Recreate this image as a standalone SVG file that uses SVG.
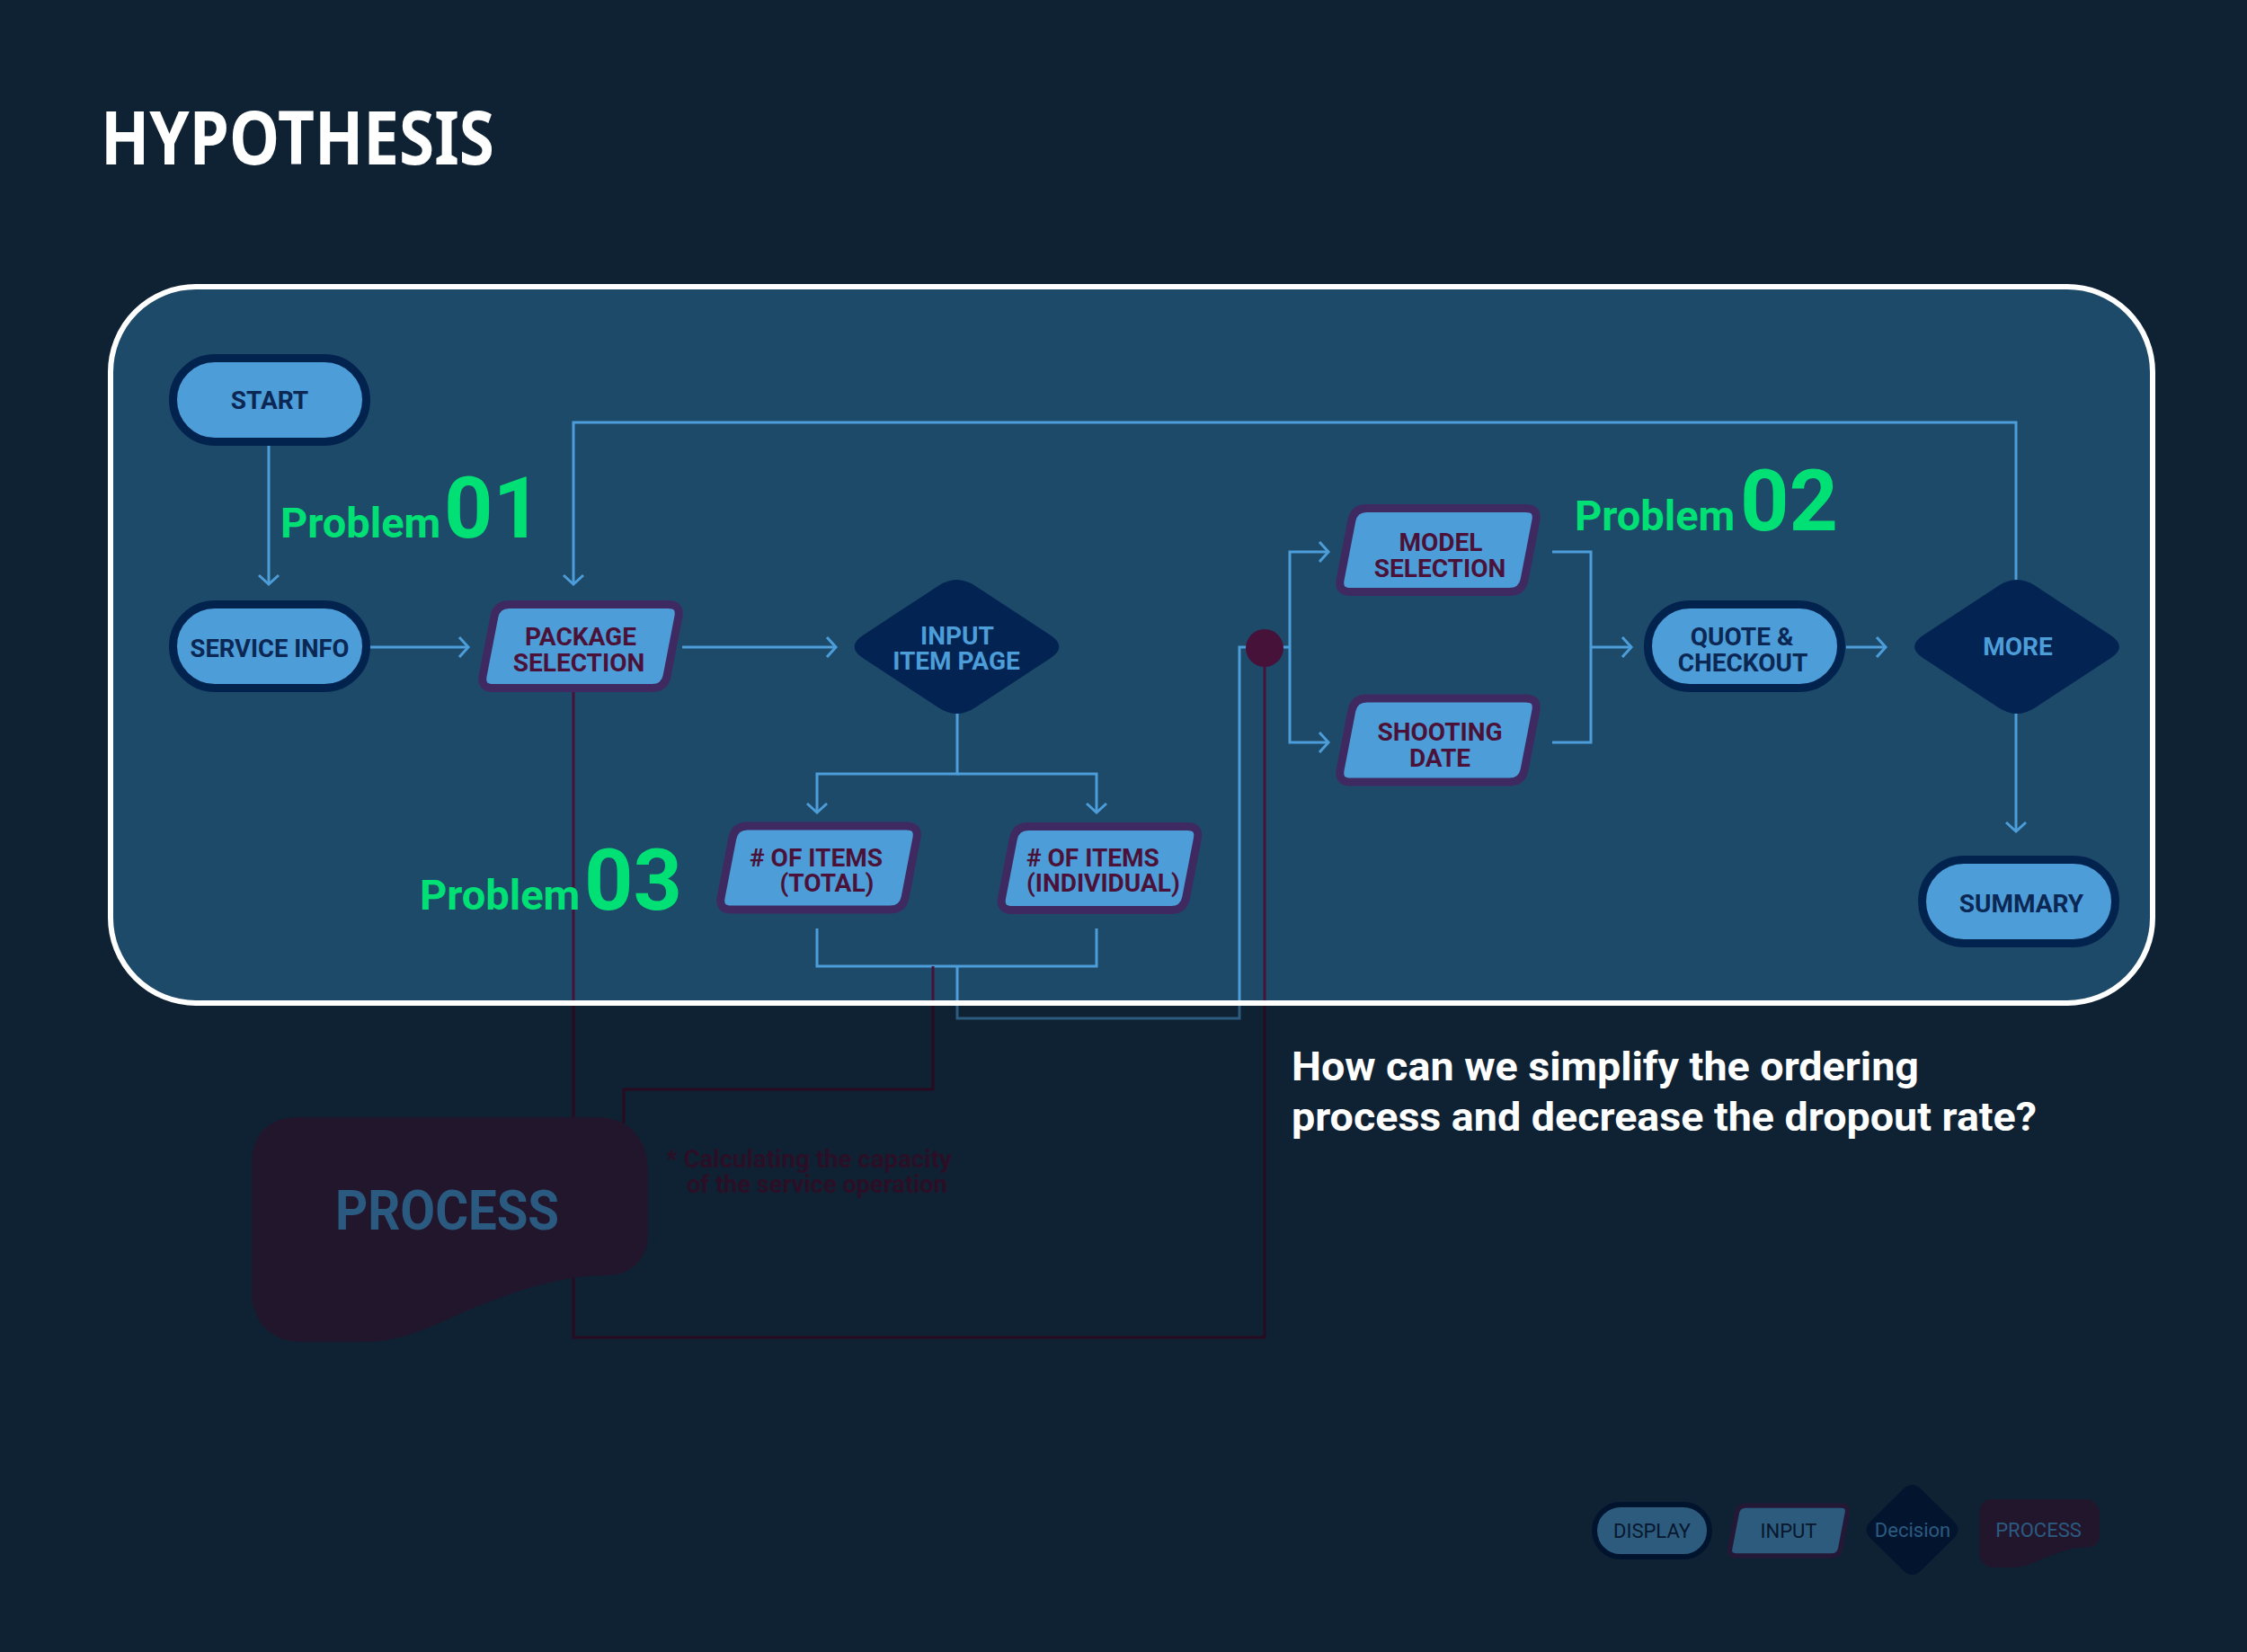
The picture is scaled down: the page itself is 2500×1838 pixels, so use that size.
<svg xmlns="http://www.w3.org/2000/svg" xmlns:xlink="http://www.w3.org/1999/xlink" width="2500" height="1838" viewBox="0 0 2500 1838">
<style>
.disp{fill:#4d9dd9;stroke:#03234f;stroke-width:9}
.inp{fill:#4d9dd9;stroke:#3e2a60;stroke-width:9}
.dec{fill:#032452}
.t{font-family:Roboto,"Liberation Sans",sans-serif;font-weight:700;font-size:28px;text-anchor:middle}
.td{fill:#0b2753}
.ti{fill:#4a1238}
.tdec{fill:#4d9dd9}
.bl{fill:none;stroke:#4d9dd9;stroke-width:3}
.mr{fill:none;stroke:#461239;stroke-width:3}
.prob{font-family:Roboto,"Liberation Sans",sans-serif;font-weight:700;fill:#00e075}
.lg{font-family:Roboto,"Liberation Sans",sans-serif;font-size:22px;text-anchor:middle}
</style>
<defs>
<marker id="ah" viewBox="0 0 24 24" refX="21" refY="12" markerWidth="24" markerHeight="24" markerUnits="userSpaceOnUse" orient="auto">
<path d="M11 1 L21 12 L11 23" fill="none" stroke="#4d9dd9" stroke-width="3"/>
</marker>
<path id="para" d="M-79.5 -46.5 H97.5 Q111.5 -46.5 108.84 -32.75 L96.16 32.75 Q93.5 46.5 79.5 46.5 H-97.5 Q-111.5 46.5 -108.84 32.75 L-96.16 -32.75 Q-93.5 -46.5 -79.5 -46.5 Z"/>
<path id="dia" d="M-103.9 -13.1 L-20.1 -67.9 Q0 -81 20.1 -67.9 L103.9 -13.1 Q124 0 103.9 13.1 L20.1 67.9 Q0 81 -20.1 67.9 L-103.9 13.1 Q-124 0 -103.9 -13.1 Z"/>
<path id="blob" d="M50 0 H385 C420 0 441 25 441 60 V130 C441 158 422 176 395 176 C340 176 290 195 240 215 C195 235 165 250 125 250 H55 C20 250 0 225 0 195 V50 C0 20 20 0 50 0 Z"/>
</defs>

<rect x="0" y="0" width="2500" height="1838" fill="#1a3b58"/>
<rect id="panel-fill" x="123" y="319" width="2272" height="797" rx="95" fill="#1e4a6a"/>

<g id="connectors">
<path class="bl" d="M299 496 V650" marker-end="url(#ah)"/>
<path class="bl" d="M411 720 H521" marker-end="url(#ah)"/>
<path class="bl" d="M759 720 H930" marker-end="url(#ah)"/>
<path class="bl" d="M1065 793 V861 H909 V904" marker-end="url(#ah)"/>
<path class="bl" d="M1065 861 H1220 V904" marker-end="url(#ah)"/>
<path class="bl" d="M909 1033 V1075 H1220 V1033"/>
<path class="bl" d="M1065 1075 V1133 H1379 V720 H1435"/>
<path class="bl" d="M1435 720 V614 H1478" marker-end="url(#ah)"/>
<path class="bl" d="M1435 720 V826 H1478" marker-end="url(#ah)"/>
<path class="bl" d="M1727 614 H1770 V826 H1727"/>
<path class="bl" d="M1770 720 H1815" marker-end="url(#ah)"/>
<path class="bl" d="M2054 720 H2098" marker-end="url(#ah)"/>
<path class="bl" d="M2243 646 V470 H638 V650" marker-end="url(#ah)"/>
<path class="bl" d="M2243 793 V925" marker-end="url(#ah)"/>
<path class="mr" d="M638 770 V1488 H1407 V742"/>
<path class="mr" d="M1038 1075 V1212 H694 V1250"/>
</g>
<g id="junction"><circle cx="1407" cy="721" r="21" fill="#461239"/></g>

<g id="start"><rect class="disp" x="192.5" y="398.5" width="215" height="93" rx="46.5"/><text class="t td" x="300" y="455">START</text></g>
<g id="service-info"><rect class="disp" x="192.5" y="672.5" width="215" height="93" rx="46.5"/><text class="t td" x="300" y="731" textLength="177" lengthAdjust="spacingAndGlyphs">SERVICE INFO</text></g>
<g id="package-selection"><use xlink:href="#para" class="inp" transform="translate(646 719)"/><text class="t ti" x="646" y="718">PACKAGE</text><text class="t ti" x="644" y="747">SELECTION</text></g>
<g id="input-item-page"><use xlink:href="#dia" class="dec" transform="translate(1064.5 719.5)"/><text class="t tdec" x="1065" y="717">INPUT</text><text class="t tdec" x="1064" y="745">ITEM PAGE</text></g>
<g id="items-total"><use xlink:href="#para" class="inp" transform="translate(911 965.5)"/><text class="t ti" x="908" y="964"># OF ITEMS</text><text class="t ti" x="920" y="992">(TOTAL)</text></g>
<g id="items-individual"><use xlink:href="#para" class="inp" transform="translate(1223.5 966)"/><text class="t ti" x="1142" y="964" style="text-anchor:start"># OF ITEMS</text><text class="t ti" x="1142" y="992" style="text-anchor:start">(INDIVIDUAL)</text></g>
<g id="model-selection"><use xlink:href="#para" class="inp" transform="translate(1600 612)"/><text class="t ti" x="1603" y="613">MODEL</text><text class="t ti" x="1602" y="642">SELECTION</text></g>
<g id="shooting-date"><use xlink:href="#para" class="inp" transform="translate(1600 823.5)"/><text class="t ti" x="1602" y="824">SHOOTING</text><text class="t ti" x="1602" y="853">DATE</text></g>
<g id="quote-checkout"><rect class="disp" x="1833.5" y="672.5" width="215" height="93" rx="46.5"/><text class="t td" x="1938" y="718">QUOTE &amp;</text><text class="t td" x="1939" y="747">CHECKOUT</text></g>
<g id="more"><use xlink:href="#dia" class="dec" transform="translate(2244 719.5)"/><text class="t tdec" x="2245" y="729">MORE</text></g>
<g id="summary"><rect class="disp" x="2138.5" y="956.5" width="215" height="93" rx="46.5"/><text class="t td" x="2249" y="1015">SUMMARY</text></g>

<g id="problems">
<text class="prob" x="312" y="598" font-size="47">Problem</text><text class="prob" x="494" y="598" font-size="95">01</text>
<text class="prob" x="1752" y="590" font-size="47">Problem</text><text class="prob" x="1936" y="590" font-size="95">02</text>
<text class="prob" x="467" y="1012" font-size="47">Problem</text><text class="prob" x="650" y="1012" font-size="95">03</text>
</g>

<g id="process">
<use xlink:href="#blob" fill="#3b264f" transform="translate(280 1243)"/>
<text x="373" y="1368" font-family="Roboto, 'Liberation Sans', sans-serif" font-weight="700" font-size="62" fill="#4a9bdc" textLength="249" lengthAdjust="spacingAndGlyphs">PROCESS</text>
</g>
<g id="note" font-family="Roboto, 'Liberation Sans', sans-serif" font-weight="700" font-size="28" fill="#4a1a42">
<text x="741" y="1299" textLength="318" lengthAdjust="spacingAndGlyphs">* Calculating the capacity</text>
<text x="764" y="1327" textLength="290" lengthAdjust="spacingAndGlyphs">of the service operation</text>
</g>

<g id="legend">
<g id="legend-display"><rect x="1774" y="1674" width="128" height="58" rx="29" fill="#4d9dd9" stroke="#03234f" stroke-width="6"/><text class="lg" x="1838" y="1711" fill="#0b2a50">DISPLAY</text></g>
<g id="legend-input"><use xlink:href="#para" fill="#4d9dd9" stroke="#3e2a60" stroke-width="9" transform="translate(1990 1703) scale(0.6)"/><text class="lg" x="1990" y="1711" fill="#0b2a50">INPUT</text></g>
<g id="legend-decision"><path d="M-46 -9.8 L-10 -45.2 Q0 -55 10 -45.2 L46 -9.8 Q56 0 46 9.8 L10 45.2 Q0 55 -10 45.2 L-46 9.8 Q-56 0 -46 -9.8 Z" fill="#052350" transform="translate(2127.5 1702)"/><text class="lg" x="2128" y="1710" fill="#4a9bdc">Decision</text></g>
<g id="legend-process"><use xlink:href="#blob" fill="#3b264f" transform="translate(2202 1668) scale(0.304)"/><text class="lg" x="2268" y="1710" fill="#4a9bdc">PROCESS</text></g>
</g>

<path id="dim" fill="#000" fill-opacity="0.42" fill-rule="evenodd" d="M0 0H2500V1838H0Z M218 319 H2300 A95 95 0 0 1 2395 414 V1021 A95 95 0 0 1 2300 1116 H218 A95 95 0 0 1 123 1021 V414 A95 95 0 0 1 218 319Z"/>
<rect id="panel-border" x="123" y="319" width="2272" height="797" rx="95" fill="none" stroke="#ffffff" stroke-width="6"/>

<text id="title" x="112" y="183" font-family="'Noto Sans', 'Open Sans', sans-serif" font-weight="700" font-size="82" fill="#ffffff" textLength="438" lengthAdjust="spacingAndGlyphs">HYPOTHESIS</text>
<g id="question" font-family="Roboto, 'Liberation Sans', sans-serif" font-weight="700" font-size="45" fill="#ffffff">
<text x="1437" y="1202" textLength="698" lengthAdjust="spacingAndGlyphs">How can we simplify the ordering</text>
<text x="1437" y="1258" textLength="829" lengthAdjust="spacingAndGlyphs">process and decrease the dropout rate?</text>
</g>
</svg>
